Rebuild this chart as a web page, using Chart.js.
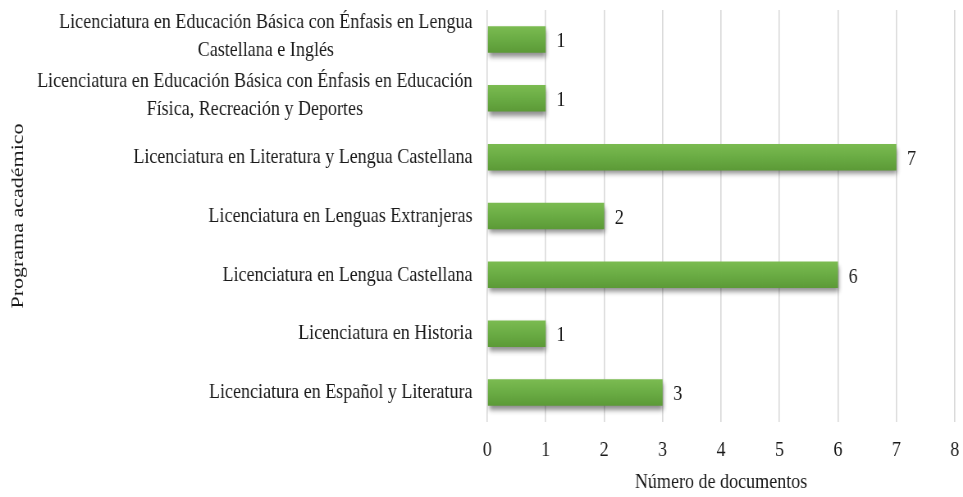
<!DOCTYPE html>
<html lang="es">
<head>
<meta charset="utf-8">
<title>Programa académico</title>
<script src="https://cdn.jsdelivr.net/npm/chart.js@4/dist/chart.umd.min.js"></script>
<style>
    html, body {
        margin: 0;
        padding: 0;
        background: #ffffff;
        overflow: hidden;
    }
    /* the source picture is squeezed sideways, so the chart is drawn wider and squeezed back */
    #wrap {
        position: absolute;
        left: 0;
        top: 0;
        width: 1174px;
        height: 497px;
        transform: scaleX(0.8203);
        transform-origin: 0 0;
    }
</style>
</head>
<body>
<div id="wrap"><canvas id="programChart"></canvas></div>
<script>
const programLabels = [
    ["Licenciatura en Educación Básica con Énfasis en Lengua", "Castellana e Inglés"],
    ["Licenciatura en Educación Básica con Énfasis en Educación", "Física, Recreación y Deportes"],
    "Licenciatura en Literatura y Lengua Castellana",
    "Licenciatura en Lenguas Extranjeras",
    "Licenciatura en Lengua Castellana",
    "Licenciatura en Historia",
    "Licenciatura en Español y Literatura"
];

const documentCounts = [1, 1, 7, 2, 6, 1, 3];

const xTickValues = [0, 1, 2, 3, 4, 5, 6, 7, 8];

const xTitle = "Número de documentos";
const yTitle = "Programa académico";

const fontFamily = "'Liberation Serif', 'Times New Roman', serif";
const fontSize = 22;
const textColor = "#1a1a1a";

function barGradient(context) {
    const chart = context.chart;
    const yScale = chart.scales.y;
    if (!chart.chartArea || !yScale) return "#6aa843";
    const yc = yScale.getPixelForValue(context.dataIndex);
    const g = chart.ctx.createLinearGradient(0, yc - 13, 0, yc + 13);
    g.addColorStop(0, "#7bbb51");
    g.addColorStop(0.5, "#6aac44");
    g.addColorStop(1, "#5c9a37");
    return g;
}

const barExtras = {
    id: "barExtras",
    beforeDatasetsDraw(chart) {
        const ctx = chart.ctx;
        ctx.save();
        ctx.shadowColor = "rgba(0, 0, 0, 0.45)";
        ctx.shadowBlur = 5;
        ctx.shadowOffsetX = 1;
        ctx.shadowOffsetY = 4;
    },
    afterDatasetsDraw(chart) {
        const ctx = chart.ctx;
        ctx.restore();

        // value labels at the bar ends
        const meta = chart.getDatasetMeta(0);
        ctx.save();
        ctx.font = `${fontSize}px ${fontFamily}`;
        ctx.fillStyle = textColor;
        ctx.textAlign = "left";
        ctx.textBaseline = "middle";
        meta.data.forEach((bar, i) => {
            ctx.fillText(String(documentCounts[i]), bar.x + 13, bar.y + 2);
        });
        ctx.restore();
    },
    afterDraw(chart) {
        // category labels: each block right aligned, lines centred inside it
        const ctx = chart.ctx;
        const yScale = chart.scales.y;
        const rightEdge = 576;
        const lineHeight = 28;
        ctx.save();
        ctx.font = `${fontSize}px ${fontFamily}`;
        ctx.fillStyle = textColor;
        ctx.textAlign = "center";
        ctx.textBaseline = "middle";
        programLabels.forEach((label, i) => {
            const lines = Array.isArray(label) ? label : [label];
            const width = Math.max(...lines.map((line) => ctx.measureText(line).width));
            const cx = rightEdge - width / 2;
            const yc = yScale.getPixelForValue(i);
            const startY = yc - (lines.length - 1) * lineHeight / 2 - (lines.length > 1 ? 3 : 0);
            lines.forEach((line, j) => {
                ctx.fillText(line, cx, startY + j * lineHeight);
            });
        });
        ctx.restore();
    }
};

new Chart(document.getElementById("programChart"), {
    type: "bar",
    data: {
        labels: programLabels,
        datasets: [{
            label: "Documentos",
            data: documentCounts,
            backgroundColor: barGradient,
            borderWidth: 0,
            barPercentage: 0.45,
            categoryPercentage: 1
        }]
    },
    options: {
        indexAxis: "y",
        responsive: true,
        maintainAspectRatio: false,
        animation: false,
        layout: {
            padding: { left: 0, right: 0, top: 10, bottom: 0 }
        },
        plugins: {
            legend: { display: false },
            tooltip: { enabled: false }
        },
        scales: {
            x: {
                min: 0,
                max: 8,
                afterBuildTicks: (scale) => {
                    scale.ticks = xTickValues.map((v) => ({ value: v }));
                },
                afterFit: (scale) => {
                    scale.height = 75;
                    scale.paddingRight = 10;
                },
                grid: {
                    color: "#d9d9d9",
                    lineWidth: 1.6,
                    drawTicks: false
                },
                border: { display: false },
                ticks: {
                    padding: 15,
                    color: textColor,
                    font: { family: fontFamily, size: fontSize }
                },
                title: {
                    display: true,
                    text: xTitle,
                    color: textColor,
                    font: { family: fontFamily, size: fontSize },
                    padding: { top: 0, bottom: 2 }
                }
            },
            y: {
                afterFit: (scale) => {
                    scale.width = 594;
                },
                grid: { display: false },
                border: { display: false },
                ticks: { display: false },
                title: {
                    display: true,
                    text: yTitle,
                    color: textColor,
                    font: { family: fontFamily, size: fontSize },
                    padding: { top: 9, bottom: 0 }
                }
            }
        }
    },
    plugins: [barExtras]
});
</script>
</body>
</html>
